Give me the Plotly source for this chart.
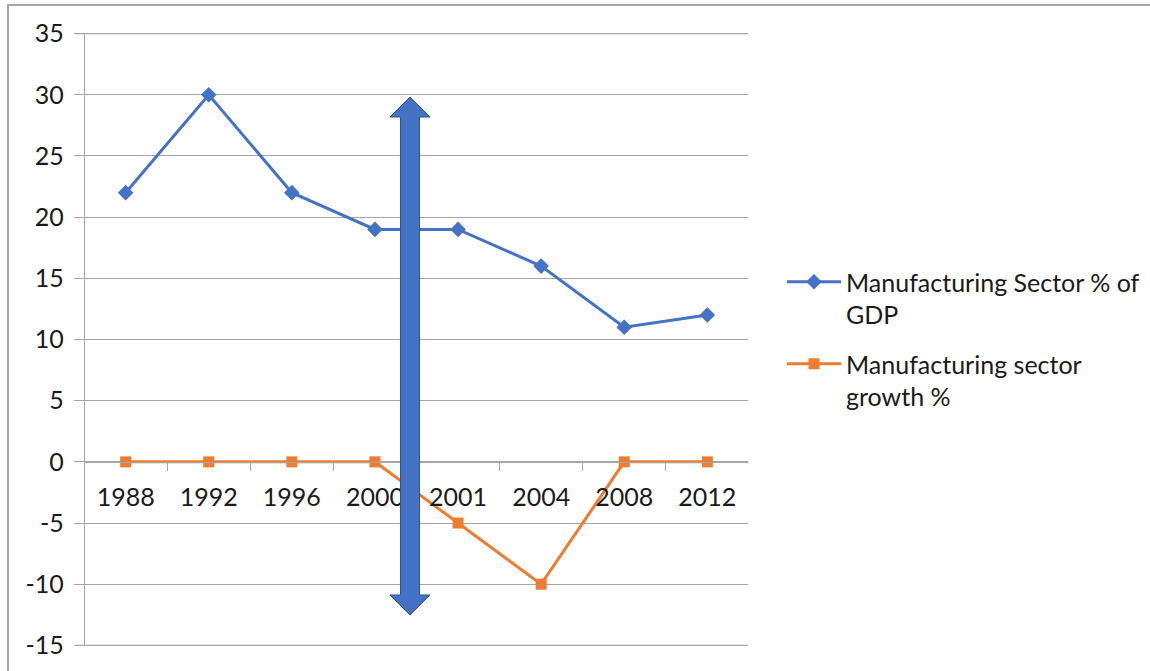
import plotly.graph_objects as go

years = ["1988", "1992", "1996", "2000", "2001", "2004", "2008", "2012"]
gdp_share = [22, 30, 22, 19, 19, 16, 11, 12]
growth = [0, 0, 0, 0, -5, -10, 0, 0]
y_ticks = [35, 30, 25, 20, 15, 10, 5, 0, -5, -10, -15]
y_tick_text = ["35", "30", "25", "20", "15", "10", "5", "0", "-5", "-10", "-15"]

W, H = 1150, 671
L, R, T, B = 85, 748, 33, 646
FONT = "Lato"
FS = 25
TXT = "#1a1a1a"
GRID = "#a6a6a6"


def px(x):
    return (x - L) / (R - L)


def py(y):
    return (B - y) / (B - T)


fig = go.Figure()
fig.add_trace(go.Scatter(
    x=years, y=gdp_share, mode="lines+markers",
    name="Manufacturing Sector % of<br>GDP", legendgroup="g1",
    line=dict(color="#4472C4", width=3),
    marker=dict(symbol="diamond", size=12, color="#4472C4"),
))
fig.add_trace(go.Scatter(
    x=years, y=growth, mode="lines+markers",
    name="Manufacturing sector<br>growth %", legendgroup="g2",
    line=dict(color="#ED7D31", width=3),
    marker=dict(symbol="square", size=11, color="#ED7D31"),
))

# double-headed arrow drawn over the chart
cx = 410
pts = [(cx, 97), (cx + 20, 117), (cx + 9.5, 117), (cx + 9.5, 595), (cx + 20, 595),
       (cx, 615), (cx - 20, 595), (cx - 9.5, 595), (cx - 9.5, 117), (cx - 20, 117)]
path = "M " + " L ".join(f"{px(a):.5f},{py(b):.5f}" for a, b in pts) + " Z"

shapes = [
    # grid lines at the top and bottom of the value range
    dict(type="line", xref="paper", yref="y", x0=px(75), x1=1,
         y0=y_ticks[0], y1=y_ticks[0], line=dict(color=GRID, width=1.3), layer="below"),
    dict(type="line", xref="paper", yref="y", x0=px(75), x1=1,
         y0=y_ticks[-1], y1=y_ticks[-1], line=dict(color=GRID, width=1.3), layer="below"),
    dict(type="path", xref="paper", yref="paper", path=path,
         fillcolor="#4472C4", line=dict(color="#2F528F", width=1), layer="above"),
    dict(type="rect", xref="paper", yref="paper",
         x0=px(8), y0=py(5), x1=px(1200), y1=py(720),
         line=dict(color="#8c8c8c", width=1.5), fillcolor="rgba(0,0,0,0)", layer="above"),
]

fig.update_layout(
    width=W, height=H,
    margin=dict(l=L, r=W - R, t=T, b=H - B, pad=0, autoexpand=False),
    paper_bgcolor="white", plot_bgcolor="white",
    font=dict(family=FONT, size=FS, color=TXT),
    shapes=shapes,
    showlegend=True,
    legend=dict(
        x=px(782), y=py(259), xanchor="left", yanchor="top",
        font=dict(family=FONT, size=FS, color=TXT),
        itemwidth=54, valign="top", tracegroupgap=14,
        bgcolor="rgba(0,0,0,0)",
    ),
    xaxis=dict(
        type="category", categoryorder="array", categoryarray=years,
        anchor="free", position=0.3,
        showline=True, linecolor=GRID, linewidth=1.3,
        ticks="outside", tickson="boundaries", ticklen=8, tickcolor=GRID, tickwidth=1.3,
        showgrid=False, zeroline=False,
        tickfont=dict(family=FONT, size=FS, color=TXT),
        ticklabelstandoff=13,
    ),
    yaxis=dict(
        range=[-15.05, 35.05], tickmode="array", tickvals=y_ticks, ticktext=y_tick_text,
        showgrid=True, gridcolor=GRID, gridwidth=1.3,
        zeroline=False,
        showline=True, linecolor=GRID, linewidth=1.3,
        ticks="outside", ticklen=10, tickcolor=GRID, tickwidth=1.3,
        tickfont=dict(family=FONT, size=FS, color=TXT),
        ticklabelstandoff=5,
    ),
)

fig.write_html("out.html")
